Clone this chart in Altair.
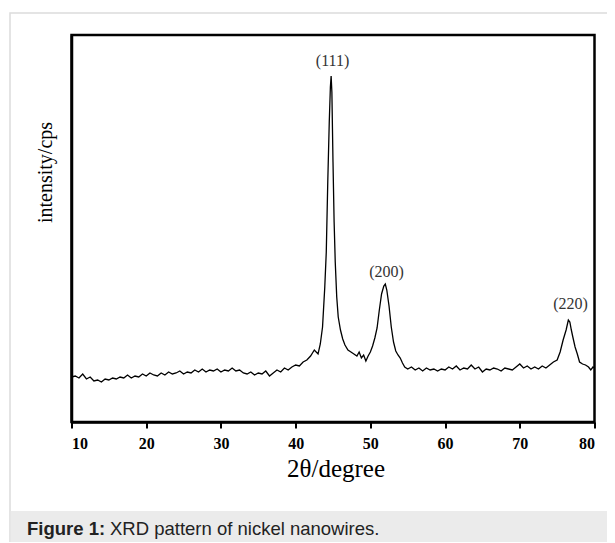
import altair as alt
import pandas as pd

# 2-theta positions (degrees)
two_theta = [
    10.0, 10.5, 11.0, 11.5, 12.0, 12.5, 13.0, 13.5, 14.0, 14.5, 15.0, 15.5, 16.0, 16.5,
    17.0, 17.5, 18.0, 18.5, 19.0, 19.5, 20.0, 20.5, 21.0, 21.5, 22.0, 22.5, 23.0, 23.5,
    24.0, 24.5, 25.0, 25.5, 26.0, 26.5, 27.0, 27.5, 28.0, 28.5, 29.0, 29.5, 30.0, 30.5,
    31.0, 31.5, 32.0, 32.5, 33.0, 33.5, 34.0, 34.5, 35.0, 35.5, 36.0, 36.5, 37.0, 37.5,
    38.0, 38.5, 39.0, 39.5, 40.0, 40.5, 41.0, 41.5, 42.0, 42.5, 43.0, 43.3, 43.6, 43.9,
    44.1, 44.3, 44.5, 44.65, 44.75, 44.85, 45.0, 45.15, 45.3, 45.5, 45.7, 46.0, 46.3, 46.6,
    47.0, 47.4, 47.8, 48.2, 48.5, 48.8, 49.1, 49.4, 49.7, 50.0, 50.3, 50.6, 50.9, 51.2,
    51.5, 51.8, 52.0, 52.2, 52.5, 52.8, 53.1, 53.4, 53.7, 54.0, 54.3, 54.6, 55.0, 55.5,
    56.0, 56.5, 57.0, 57.5, 58.0, 58.5, 59.0, 59.5, 60.0, 60.5, 61.0, 61.5, 62.0, 62.5,
    63.0, 63.5, 64.0, 64.5, 65.0, 65.5, 66.0, 66.5, 67.0, 67.5, 68.0, 68.5, 69.0, 69.5,
    70.0, 70.5, 71.0, 71.5, 72.0, 72.5, 73.0, 73.5, 74.0, 74.5, 75.0, 75.4, 75.8, 76.2,
    76.5, 76.7, 76.9, 77.1, 77.4, 77.7, 78.0, 78.4, 78.8, 79.2, 79.5, 79.8, 80.0,
]

# intensity (cps, arbitrary units)
intensity = [
    45, 46, 44, 48, 43, 45, 41, 42, 40, 43, 42, 44, 43, 45,
    44, 47, 44, 46, 45, 48, 46, 49, 47, 46, 49, 47, 50, 48,
    49, 51, 48, 50, 49, 52, 50, 53, 50, 52, 51, 53, 50, 52,
    51, 54, 51, 52, 49, 48, 50, 47, 49, 48, 51, 46, 49, 52,
    50, 54, 52, 55, 57, 56, 60, 62, 66, 72, 68, 78, 95, 135,
    170, 240, 300, 335, 346, 330, 260, 200, 160, 125, 105, 92, 83, 77,
    72, 70, 68, 66, 70, 64, 67, 61, 66, 70, 76, 84, 94, 112,
    128, 136, 138, 132, 116, 95, 80, 71, 67, 64, 59, 55, 53, 55,
    52, 54, 51, 54, 52, 53, 51, 53, 52, 55, 53, 56, 52, 54,
    53, 57, 53, 55, 50, 53, 52, 54, 53, 51, 54, 53, 52, 55,
    58, 54, 56, 53, 55, 53, 56, 54, 57, 60, 62, 70, 82, 92,
    102, 100, 92, 85, 75, 68, 60, 58, 57, 55, 52, 55, 54,
]

peak_labels = ["(111)", "(200)", "(220)"]
peak_x = [44.94, 52.17, 76.8]
peak_y = [361, 150, 118]

x_ticks = [10, 20, 30, 40, 50, 60, 70, 80]

W, H = 523, 387
SERIF = "Times New Roman, Liberation Serif, serif"
SANS = "Arial, Liberation Sans, sans-serif"

df = pd.DataFrame({"two_theta": two_theta, "intensity": intensity})
lab = pd.DataFrame({"label": peak_labels, "x": peak_x, "y": peak_y})
one = pd.DataFrame({"a": [0]})

xscale = alt.Scale(domain=[10, 80], nice=False)
yscale = alt.Scale(domain=[0, 387], nice=False)

frame = alt.Chart(one).mark_rect(
    fill="transparent", stroke="#dcdcdc", strokeWidth=1.5
).encode(
    x=alt.value(-61.5), x2=alt.value(580), y=alt.value(-22), y2=alt.value(540)
)

band = alt.Chart(one).mark_rect(fill="#ebebeb").encode(
    x=alt.value(-60.8), x2=alt.value(580), y=alt.value(476), y2=alt.value(540)
)

box = alt.Chart(one).mark_rect(
    fill="transparent", stroke="black", strokeWidth=2.5
).encode(
    x=alt.value(0), x2=alt.value(W), y=alt.value(0), y2=alt.value(H)
)

line = alt.Chart(df).mark_line(color="black", strokeWidth=1.3).encode(
    x=alt.X(
        "two_theta:Q", scale=xscale,
        axis=alt.Axis(
            values=x_ticks, format="d", grid=False, domainColor="black",
            domainWidth=2.5, tickColor="black", tickWidth=2, tickSize=6,
            labelFont=SERIF, labelFontSize=16, labelFontWeight="bold",
            labelColor="black", labelPadding=7, zindex=2,
            title="2θ/degree", titleFont=SERIF, titleFontSize=25,
            titleFontWeight="normal", titleColor="black",
            titleX=264, titleY=46, titleBaseline="middle", titleAlign="center",
        ),
    ),
    y=alt.Y(
        "intensity:Q", scale=yscale,
        axis=alt.Axis(
            labels=False, ticks=False, grid=False, domainColor="black",
            domainWidth=2.5, zindex=2, title="intensity/cps", titleFont=SERIF,
            titleFontSize=20, titleFontWeight="normal", titleColor="black",
            titleAngle=270, titleX=-26.5, titleY=137,
            titleAlign="center", titleBaseline="middle",
        ),
    ),
)

labels = alt.Chart(lab).mark_text(
    font=SERIF, fontSize=16, color="#333333", baseline="middle", align="center"
).encode(
    x=alt.X("x:Q", scale=xscale),
    y=alt.Y("y:Q", scale=yscale),
    text="label:N",
)

cap_bold = alt.Chart(one).mark_text(
    text="Figure 1:", font=SANS, fontSize=18.5, fontWeight="bold",
    color="#222222", align="left", baseline="middle"
).encode(x=alt.value(-44.5), y=alt.value(494))

cap_text = alt.Chart(one).mark_text(
    text="XRD pattern of nickel nanowires.", font=SANS, fontSize=18.5,
    color="#222222", align="left", baseline="middle"
).encode(x=alt.value(38.5), y=alt.value(494))

chart = alt.layer(frame, band, box, line, labels, cap_bold, cap_text).properties(
    width=W, height=H,
    autosize=alt.AutoSizeParams(type="none"),
    padding={"left": 63.5, "top": 27, "right": 12, "bottom": 120},
    background="white",
).configure_view(stroke=None)

chart.save("out.html", embed_options={"renderer": "svg", "actions": False})
